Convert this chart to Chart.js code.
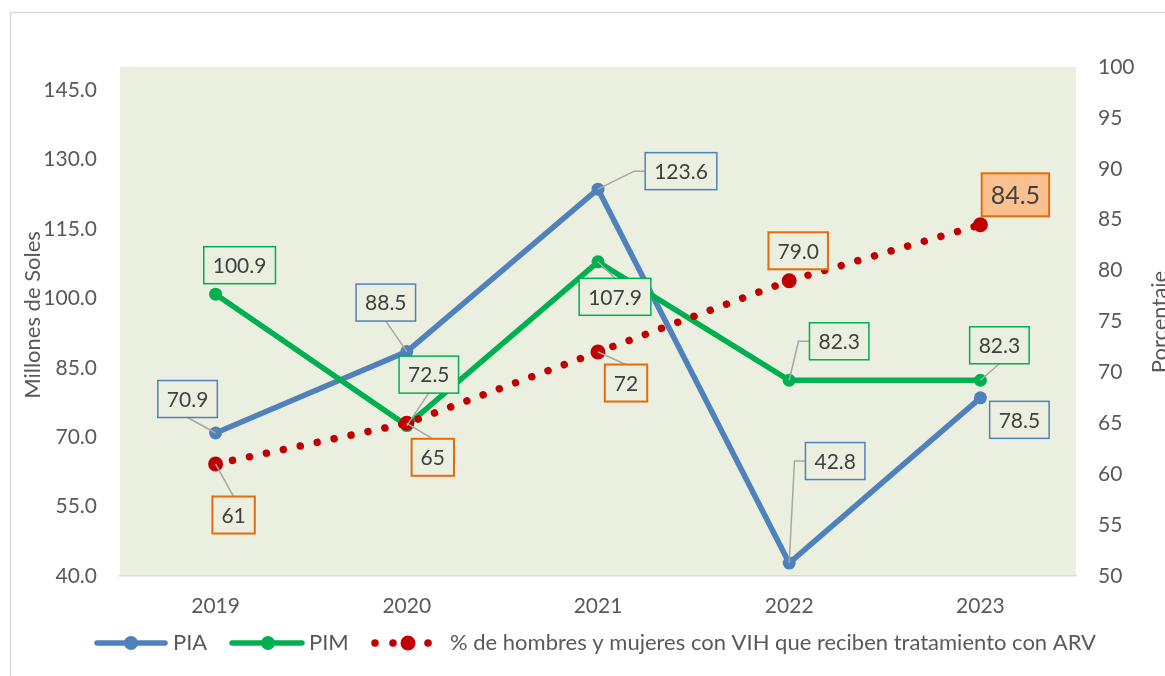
<!DOCTYPE html>
<html>
<head>
<meta charset="utf-8">
<script src="https://cdn.jsdelivr.net/npm/chart.js@4/dist/chart.umd.min.js"></script>
<style>
  body { margin: 0; background: #fff; }
  #wrap { width: 1165px; height: 676px; position: relative; }
</style>
</head>
<body>
<div id="wrap"><canvas id="chart" width="1165" height="676"></canvas></div>
<script>
const years = ['2019', '2020', '2021', '2022', '2023'];
const pia = [70.9, 88.5, 123.6, 42.8, 78.5];
const pim = [100.9, 72.5, 107.9, 82.3, 82.3];
const pct = [61, 65, 72, 79.0, 84.5];
const pctLabels = ['61', '65', '72', '79.0', '84.5'];
const leftTicks = [40, 55, 70, 85, 100, 115, 130, 145];

// label box offsets from the point (box centre), px
const piaOffsets = [[-28, -34], [-21, -49], [83, -18], [46, -102], [39, 22]];
const pimOffsets = [[24, -29], [22, -51], [17, 35], [50, -39], [19, -35]];
const pctOffsets = [[18, 51], [26, 34], [28, 31], [9, -30], [35, -30]];

const FONT = 'Lato, "Noto Sans", sans-serif';
const TEXT = '#595959';
const BLUE = '#4F81BD';
const GREEN = '#00B050';
const RED = '#C00000';
const ORANGE = '#E46C0A';

const pageDecor = {
    id: 'pageDecor',
    beforeDraw(chart) {
        const { ctx, chartArea: a } = chart;
        ctx.save();
        ctx.fillStyle = '#fff';
        ctx.fillRect(0, 0, chart.width, chart.height);
        ctx.strokeStyle = '#D9D9D9';
        ctx.lineWidth = 1.5;
        ctx.strokeRect(10.5, 12.5, 1300, 800);
        ctx.fillStyle = '#EBEFDF';
        ctx.fillRect(a.left, a.top, a.right - a.left, a.bottom - a.top);
        ctx.restore();
    },
    afterDraw(chart) {
        const ctx = chart.ctx;
        ctx.save();
        ctx.fillStyle = TEXT;
        ctx.textAlign = 'center';
        ctx.textBaseline = 'middle';
        // axis titles
        ctx.font = '22px ' + FONT;
        ctx.save();
        ctx.translate(33, 315);
        ctx.rotate(-Math.PI / 2);
        ctx.fillText('Millones de Soles', 0, 0);
        ctx.restore();
        ctx.save();
        ctx.translate(1160, 322);
        ctx.rotate(-Math.PI / 2);
        ctx.fillText('Porcentaje', 0, 0);
        ctx.restore();

        // legend
        const ly = 643;
        ctx.lineCap = 'round';
        ctx.lineWidth = 5.5;
        ctx.strokeStyle = BLUE;
        ctx.beginPath(); ctx.moveTo(97, ly); ctx.lineTo(165, ly); ctx.stroke();
        ctx.fillStyle = BLUE;
        ctx.beginPath(); ctx.arc(131, ly, 7, 0, Math.PI * 2); ctx.fill();
        ctx.strokeStyle = GREEN;
        ctx.beginPath(); ctx.moveTo(232, ly); ctx.lineTo(302, ly); ctx.stroke();
        ctx.fillStyle = GREEN;
        ctx.beginPath(); ctx.arc(268, ly, 7, 0, Math.PI * 2); ctx.fill();
        ctx.fillStyle = RED;
        [[375, 3.8], [393, 3.8], [408, 7.5], [428, 3.8]].forEach(([x, r]) => {
            ctx.beginPath(); ctx.arc(x, ly, r, 0, Math.PI * 2); ctx.fill();
        });
        ctx.fillStyle = TEXT;
        ctx.font = '22px ' + FONT;
        ctx.textAlign = 'left';
        ctx.fillText('PIA', 173, ly);
        ctx.fillText('PIM', 309, ly);
        ctx.fillText('% de hombres y mujeres con VIH que reciben tratamiento con ARV', 450, ly);
        ctx.restore();
    }
};

const boxLabels = {
    id: 'boxLabels',
    afterDatasetsDraw(chart) {
        const ctx = chart.ctx;
        const sets = [
            { idx: 0, offs: piaOffsets, text: pia.map(v => v.toFixed(1)), color: BLUE, lw: 1.5 },
            { idx: 1, offs: pimOffsets, text: pim.map(v => v.toFixed(1)), color: GREEN, lw: 1.5 },
            { idx: 2, offs: pctOffsets, text: pctLabels, color: ORANGE, lw: 2 }
        ];
        ctx.save();
        sets.forEach(s => {
            const meta = chart.getDatasetMeta(s.idx);
            meta.data.forEach((pt, j) => {
                const big = s.idx === 2 && j === pct.length - 1;
                const size = big ? 25 : 21;
                ctx.font = size + 'px ' + FONT;
                const w = ctx.measureText(s.text[j]).width + 18;
                const h = big ? 43 : 37;
                const cx = pt.x + s.offs[j][0];
                const cy = pt.y + s.offs[j][1];
                const l = cx - w / 2, r = cx + w / 2, t = cy - h / 2, b = cy + h / 2;

                // leader line
                const gx = pt.x < l ? l - pt.x : (pt.x > r ? pt.x - r : 0);
                const gy = pt.y < t ? t - pt.y : (pt.y > b ? pt.y - b : 0);
                if (Math.hypot(gx, gy) >= 13) {
                    ctx.strokeStyle = '#A6A6A6';
                    ctx.lineWidth = 1.5;
                    ctx.beginPath();
                    if (gx > 10) {
                        const ex = pt.x < l ? l : r;
                        const stub = pt.x < l ? ex - 11 : ex + 11;
                        ctx.moveTo(ex, cy);
                        ctx.lineTo(stub, cy);
                    } else {
                        ctx.moveTo(cx, pt.y > b ? b : t);
                    }
                    ctx.lineTo(pt.x, pt.y);
                    ctx.stroke();
                }

                ctx.fillStyle = big ? '#FAC090' : '#EBEFDF';
                ctx.fillRect(l, t, w, h);
                ctx.strokeStyle = s.color;
                ctx.lineWidth = s.lw;
                ctx.strokeRect(l, t, w, h);
                ctx.fillStyle = '#404040';
                ctx.textAlign = 'center';
                ctx.textBaseline = 'middle';
                ctx.fillText(s.text[j], cx, cy + 1);
            });
        });
        ctx.restore();
    }
};

new Chart(document.getElementById('chart'), {
    type: 'line',
    data: {
        labels: years,
        datasets: [
            {
                label: 'PIA',
                data: pia,
                yAxisID: 'y',
                borderColor: BLUE,
                backgroundColor: BLUE,
                borderWidth: 5.5,
                pointRadius: 6.5,
                pointBorderWidth: 0,
                tension: 0,
                order: 3
            },
            {
                label: 'PIM',
                data: pim,
                yAxisID: 'y',
                borderColor: GREEN,
                backgroundColor: GREEN,
                borderWidth: 5.5,
                pointRadius: 6.5,
                pointBorderWidth: 0,
                tension: 0,
                order: 2
            },
            {
                label: '% de hombres y mujeres con VIH que reciben tratamiento con ARV',
                data: pct,
                yAxisID: 'y2',
                borderColor: RED,
                backgroundColor: RED,
                borderWidth: 7.5,
                borderDash: [0.01, 17.3],
                borderCapStyle: 'round',
                pointRadius: 7.5,
                pointBorderWidth: 0,
                tension: 0,
                order: 1
            }
        ]
    },
    options: {
        responsive: false,
        animation: false,
        layout: { padding: { top: 67, left: 0, right: 0, bottom: 0 } },
        plugins: {
            legend: { display: false },
            tooltip: { enabled: false }
        },
        scales: {
            x: {
                offset: true,
                grid: { display: false, drawTicks: false },
                border: { display: true, color: '#D9D9D9', width: 1.5 },
                ticks: { color: TEXT, font: { family: FONT, size: 21 }, padding: 18 },
                afterFit(scale) { scale.height = 100; }
            },
            y: {
                position: 'left',
                min: 40,
                max: 150,
                grid: { display: false, drawTicks: false },
                border: { display: false },
                ticks: {
                    color: TEXT,
                    font: { family: FONT, size: 21 },
                    padding: 23,
                    callback: v => v.toFixed(1)
                },
                afterBuildTicks(scale) { scale.ticks = leftTicks.map(v => ({ value: v })); },
                afterFit(scale) { scale.width = 120; }
            },
            y2: {
                position: 'right',
                min: 50,
                max: 100,
                grid: { display: false, drawTicks: false },
                border: { display: false },
                ticks: {
                    stepSize: 5,
                    color: TEXT,
                    font: { family: FONT, size: 21 },
                    padding: 22
                },
                afterFit(scale) { scale.width = 89; }
            }
        }
    },
    plugins: [pageDecor, boxLabels]
});
</script>
</body>
</html>
